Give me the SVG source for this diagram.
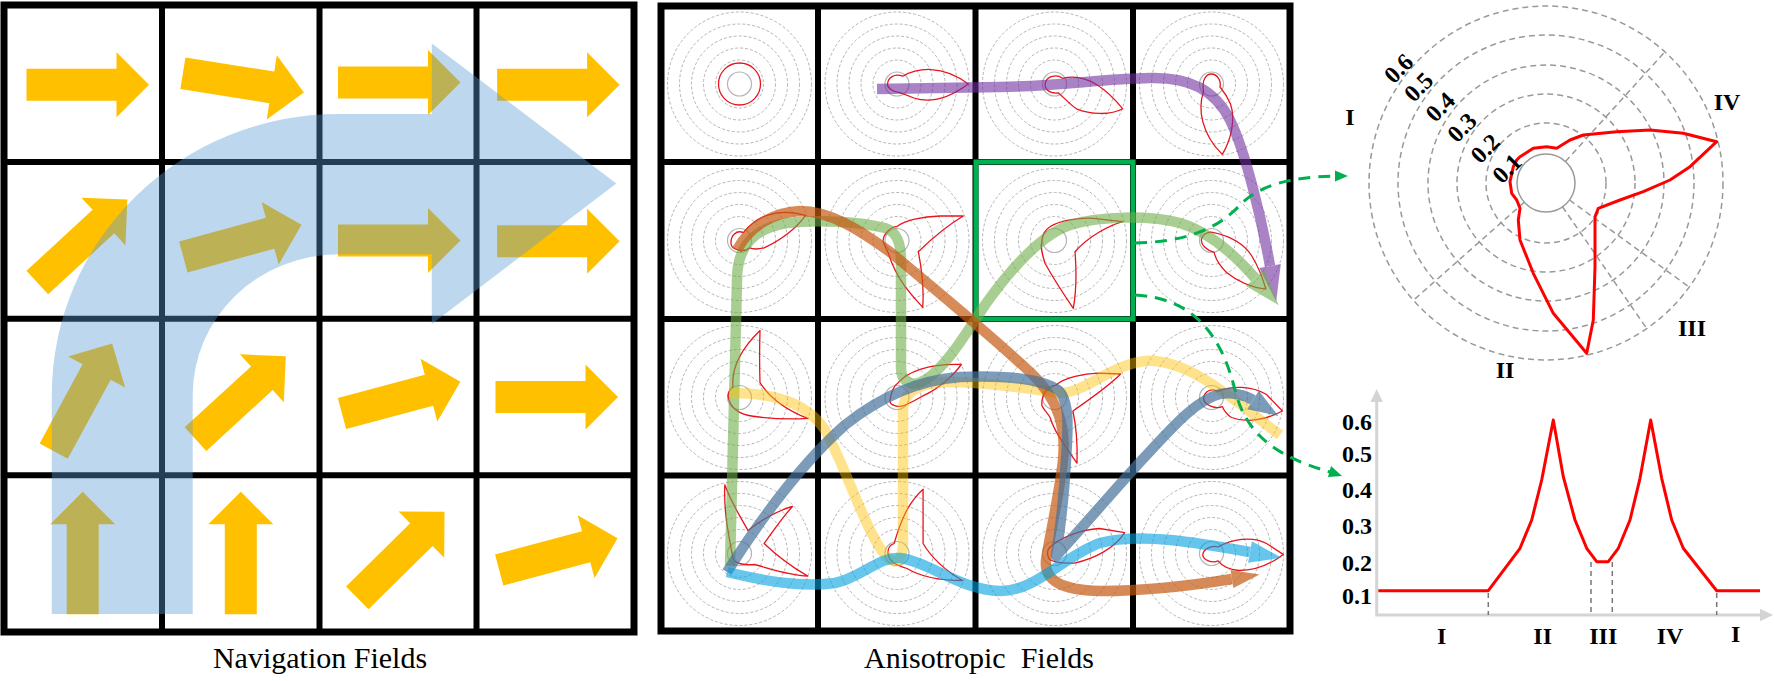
<svg xmlns="http://www.w3.org/2000/svg" xmlns:xlink="http://www.w3.org/1999/xlink" width="1774" height="681" viewBox="0 0 1774 681">
<style>
.grid{stroke:#000;stroke-width:6;fill:none}
.ya{fill:#ffc000}
.ring{fill:none;stroke:#b4b4b4;stroke-width:1;stroke-dasharray:3 2}
.core{fill:none;stroke:#b4b4b4;stroke-width:1.2}
.red{fill:none;stroke:#e8141c;stroke-width:1.3;stroke-linejoin:round}
.path{fill:none;stroke-width:10.5;stroke-linecap:butt;stroke-linejoin:round}
.gdash{fill:none;stroke:#00b050;stroke-width:3;stroke-dasharray:12 8}
.cap{font-family:"Liberation Serif","Times New Roman",serif;font-size:30px;fill:#000;white-space:pre}
.lb{font-family:"Liberation Serif","Times New Roman",serif;font-weight:bold;font-size:24px;fill:#000}
.pr{fill:none;stroke:#999;stroke-width:1.5;stroke-dasharray:6 4}
</style>
<defs>
<path id="ya" d="M0,-16 H90 V-32.5 L122.5,0 L90,32.5 V16 H0 Z"/>
<g id="rings">
<circle class="ring" r="24"/><circle class="ring" r="36"/><circle class="ring" r="48"/><circle class="ring" r="60"/><circle class="ring" r="72"/><circle class="core" r="12"/>
</g>
</defs>
<rect x="0" y="0" width="1774" height="681" fill="#fff"/>

<g id="navigation-fields">
<g id="yellow-arrows" class="ya">
<use href="#ya" transform="translate(26.5,84.8)"/>
<use href="#ya" transform="translate(182.9,73.3) rotate(9)"/>
<use href="#ya" transform="translate(338,82.6)"/>
<use href="#ya" transform="translate(497.1,84.8)"/>
<use href="#ya" transform="translate(37.3,282.6) rotate(-42.7)"/>
<use href="#ya" transform="translate(183.3,257) rotate(-15.3)"/>
<use href="#ya" transform="translate(338,240.4)"/>
<use href="#ya" transform="translate(497.1,241.3)"/>
<use href="#ya" transform="translate(53.7,451.1) rotate(-61.5)"/>
<use href="#ya" transform="translate(195.5,439.1) rotate(-42.5)"/>
<use href="#ya" transform="translate(342,413.5) rotate(-15)"/>
<use href="#ya" transform="translate(495.5,397)"/>
<use href="#ya" transform="translate(82.7,614.3) rotate(-90)"/>
<use href="#ya" transform="translate(240.8,614.3) rotate(-90)"/>
<use href="#ya" transform="translate(357.3,597.8) rotate(-44.6)"/>
<use href="#ya" transform="translate(499.2,570) rotate(-15)"/>
</g>
<g id="left-grid" class="grid">
<rect x="4" y="5" width="630" height="627" stroke-width="7"/>
<path d="M162,5V632M319.5,5V632M476.5,5V632M4,162H634M4,318.8H634M4,475.3H634"/>
</g>
<path id="blue-flow" fill="#5b9bd5" fill-opacity="0.4" d="M51.8,614 L192.7,614 L192.7,395 A146,141 0 0 1 338.8,254.3 L431.8,254.3 L431.8,324 L616.3,183.5 L431.8,43.5 L431.8,113.9 L338.8,113.9 A287,281 0 0 0 51.8,395 Z"/>
<text class="cap" x="320" y="668" text-anchor="middle">Navigation Fields</text>
</g>

<g id="anisotropic-fields">
<g id="cell-rings">
<use href="#rings" transform="translate(739.5,84)"/><use href="#rings" transform="translate(897,84)"/><use href="#rings" transform="translate(1054.5,84)"/><use href="#rings" transform="translate(1211.5,84)"/>
<use href="#rings" transform="translate(739.5,240.5)"/><use href="#rings" transform="translate(897,240.5)"/><use href="#rings" transform="translate(1054.5,240.5)"/><use href="#rings" transform="translate(1211.5,240.5)"/>
<use href="#rings" transform="translate(739.5,397.5)"/><use href="#rings" transform="translate(897,397.5)"/><use href="#rings" transform="translate(1054.5,397.5)"/><use href="#rings" transform="translate(1211.5,397.5)"/>
<use href="#rings" transform="translate(739.5,553.5)"/><use href="#rings" transform="translate(897,553.5)"/><use href="#rings" transform="translate(1054.5,553.5)"/><use href="#rings" transform="translate(1211.5,553.5)"/>
</g>
<g id="cell-shapes" class="red">
<circle cx="739.5" cy="84" r="21"/>
<path transform="translate(897,84)" d="M5.8,-7.8 C20,-16 45,-20 71.3,0 C55,12 35,20 17,14 L3,8.7 C-5,8 -10,3 -9.5,0 C-9,-6 -3,-11 5.8,-7.8 Z"/>
<path transform="translate(1054.5,84)" d="M8,-5.7 C25,-10 45,-4 68.2,24.8 C55,32 35,30 22,24.8 C15,20 10,14 4,9 C-5,10 -11,5 -9,-2 C-7,-8 2,-10 8,-5.7 Z"/>
<path transform="translate(1211.5,84)" d="M-7.9,7.4 C-14,25 -10,50 10.8,70.4 C20,55 24,35 19,20 C15,10 10,5 8.5,3 C10,-4 5,-10 0,-10 C-6,-10 -10,-3 -7.9,7.4 Z"/>
<path transform="translate(739.5,240.5)" d="M3.9,-7.8 C15,-22 35,-34 66.1,-25.2 C55,-10 40,0 24.6,7.4 C18,9 14,9 10,7.4 C5,12 -8,10 -8.5,3 C-9,-5 -3,-11 3.9,-7.8 Z"/>
<path transform="translate(897,240.5)" d="M-0.3,-13.8 C8,-20 25,-24 43,-24.5 L66.3,-24.5 C50,-15 35,-2 21.3,11.2 C25,30 27,50 25.7,66.8 C15,55 0,40 -8.7,12.8 C-12,5 -15,0 -13.7,-0.5 C-14,-6 -6,-14 -0.3,-13.8 Z"/>
<path transform="translate(1054.5,240.5)" d="M-4.5,-13.8 C5,-20 25,-23 38.8,-22.2 L68.2,-18.8 C55,-15 35,-5 20.5,11.2 C22,30 22,50 18.8,67.8 C10,55 0,40 -9.5,22.8 C-12,15 -14,5 -12.8,2.8 C-13,-5 -9,-11 -4.5,-13.8 Z"/>
<path transform="translate(1211.5,240.5)" d="M2.5,-7.8 C15,-5 30,0 40,15 C48,28 52,40 54.3,48.7 C40,47 25,40 15,32 C8,25 4,18 2.5,11.7 C-5,10 -11,4 -10,-1.3 C-8,-8 -2,-9 2.5,-7.8 Z"/>
<path transform="translate(739.5,397.5)" d="M-6.5,-10.4 C-8,-25 -2,-45 20.5,-67 C20,-50 20,-30 20.5,-14.8 C30,0 45,12 68.2,20.9 C50,22 30,21 15,19 C0,17 -10,10 -11.4,-1.7 C-11,-6 -9,-9 -6.5,-10.4 Z"/>
<path transform="translate(897,397.5)" d="M1.2,-14.8 C10,-25 30,-34 64.3,-33 C55,-20 40,-8 26,-1.7 C20,2 14,5 9.5,7 C3,11 -8,8 -7,2.6 C-6,-4 -3,-12 1.2,-14.8 Z"/>
<path transform="translate(1054.5,397.5)" d="M1.8,-12.6 C10,-20 30,-24 43.3,-24.3 L66.1,-23.5 C55,-12 35,2 18.4,13.5 C22,30 23,50 22.5,65.7 C12,50 0,35 -4.4,20 C-8,14 -13,10 -12.7,7 C-13,-2 -8,-10 1.8,-12.6 Z"/>
<path transform="translate(1211.5,397.5)" d="M6.6,-6.1 C20,-12 40,-12 55,-3 L70.9,13.5 C55,22 35,26 20,20 C15,17 12,12 10.8,9.1 C5,12 -8,8 -7.9,0.4 C-7,-6 0,-10 6.6,-6.1 Z"/>
<path transform="translate(739.5,553.5)" d="M-6.5,5 C-10,-15 -16,-40 -14.7,-68.7 C-8,-50 2,-35 8.5,-23 C20,-32 35,-42 52.9,-47 C42,-35 32,-20 24.6,-10 C35,0 50,12 68.2,22.6 C50,22 30,15 15,11 C5,12 -5,10 -6.5,5 Z"/>
<path transform="translate(897,553.5)" d="M-2.9,-10 C3,-30 10,-50 26.1,-64.3 C26,-45 26,-25 26.1,-10 C35,5 50,18 65.5,27 C45,27 25,24 10,15 C0,12 -9,8 -9.1,-1.3 C-9,-6 -6,-9 -2.9,-10 Z"/>
<path transform="translate(1054.5,553.5)" d="M-4.4,-6.5 C5,-15 25,-24 45,-25 L70.2,-20.9 C60,-5 40,5 20,9.6 C10,10 0,10 -5.6,5.2 C-8,0 -7,-4 -4.4,-6.5 Z"/>
<path transform="translate(1211.5,553.5)" d="M6.6,-6.5 C20,-14 40,-18 55,-10 L71.7,0.9 C60,10 45,17 27.4,17 C18,16 10,12 6.6,7.4 C0,10 -9,6 -8.7,0.9 C-8,-4 0,-9 6.6,-6.5 Z"/>
</g>
<g id="right-grid" class="grid">
<rect x="661" y="6" width="629" height="625" stroke-width="7"/>
<path d="M818,6V631M975.5,6V631M1133,6V631M661,162H1290M661,319H1290M661,475.5H1290"/>
</g>
<rect id="selected-cell" x="976" y="162" width="157" height="157" fill="none" stroke="#00b050" stroke-width="5"/>
<text class="cap" x="979" y="668" text-anchor="middle">Anisotropic  Fields</text>
</g>

<g id="connectors">
<g opacity="0.6">
<path class="path" stroke="#7030a0" d="M877,89 L1000,87 C1060,86 1100,79 1150,78 C1190,77 1215,90 1230,120 C1245,150 1262,220 1270,266"/>
<polygon fill="#7030a0" points="1276.2,301.5 1280.8,264.1 1259.2,267.9"/>
</g>
<g opacity="0.6">
<path class="path" stroke="#70ad47" d="M730,566 L737,280 C737,245 755,228 787,223 C820,219 860,222 885,228 C898,232 901,245 901,262 L901,368 C901,382 912,388 925,380 C945,368 965,335 985,305 C1010,270 1040,235 1070,225 C1100,216 1150,215 1180,223 C1210,232 1235,255 1255,278"/>
<polygon fill="#70ad47" points="1278.6,305.2 1264.1,270.1 1245.9,285.9"/>
</g>
<g opacity="0.45">
<path class="path" stroke="#ffc000" d="M729,393 C770,393 805,400 825,430 C845,465 865,530 885,555 C898,568 903,560 903,540 L903,410 C903,392 920,383 945,382 C990,382 1040,390 1060,393 C1085,393 1110,365 1145,361 C1190,358 1240,405 1280,435"/>
</g>
<g opacity="0.7">
<path class="path" stroke="#c55a11" d="M737,250 C750,225 775,212 800,211 C830,211 860,230 890,252 C930,285 990,335 1030,372 C1060,400 1066,430 1063,460 C1060,490 1050,535 1046,560 C1044,580 1060,590 1100,591 C1150,591 1195,585 1232,579"/>
<polygon fill="#c55a11" points="1259.6,574.5 1233.4,587.9 1230.6,570.1"/>
</g>
<g opacity="0.7">
<path class="path" stroke="#44729c" d="M727,572 C760,520 800,465 845,425 C880,397 920,380 960,377 C1000,375 1040,378 1058,390 C1070,400 1068,430 1066,460 C1064,500 1060,530 1056,556 C1080,530 1110,495 1140,462 C1170,430 1195,400 1220,394 C1232,392 1245,395 1253,400"/>
<polygon fill="#44729c" points="1278.4,415.9 1258.8,390.7 1247.2,409.3"/>
</g>
<g opacity="0.6">
<path class="path" stroke="#00a0e0" d="M727,572 C760,580 800,588 835,583 C860,578 880,556 900,558 C930,562 960,590 1000,591 C1035,592 1065,555 1100,543 C1140,532 1200,543 1250,552"/>
<polygon fill="#00a0e0" points="1281.5,557.7 1248.1,562.8 1251.9,541.2"/>
</g>
<path class="gdash" d="M1135,243 C1180,242 1215,232 1240,205 C1260,185 1290,177 1336,176"/>
<polygon fill="#00b050" points="1348,176 1335,170.5 1335,181.5"/>
<path class="gdash" d="M1135,295 C1190,298 1220,330 1235,390 C1245,430 1270,455 1330,472"/>
<polygon fill="#00b050" points="1342,476 1331,466 1328,477"/>
</g>

<g id="polar-chart">
<circle class="pr" cx="1546" cy="183" r="60"/>
<circle class="pr" cx="1546" cy="183" r="89"/>
<circle class="pr" cx="1546" cy="183" r="118"/>
<circle class="pr" cx="1546" cy="183" r="148"/>
<circle class="pr" cx="1546" cy="183" r="177"/>
<circle cx="1546" cy="183" r="29" fill="none" stroke="#999" stroke-width="1.5"/>
<path class="pr" d="M1565.5,161.5 L1664.9,51.8 M1524.3,202.2 L1413.4,300.3 M1562.5,206.8 L1646.7,328.5 M1569.5,200 L1687.6,285.9"/>
<polygon fill="none" stroke="#ff0000" stroke-width="3" stroke-linejoin="round" points="1516.7,160 1513.3,166.7 1510,181.7 1511.7,193.3 1516.7,200 1520,208.3 1518.3,220 1520,240 1533.3,273.3 1553.3,313.3 1586.7,353.3 1593.3,320 1595,266.7 1595,216.7 1598.3,208.3 1620,200 1643.3,191.7 1670,180 1690,166.7 1716.7,141.7 1683.3,133.3 1650,130 1616.7,131.7 1583.3,135 1570,140 1556.7,148.3 1546.7,146.7 1533.3,148.3 1520,156.7"/>
<g class="lb" text-anchor="middle">
<text transform="translate(1398.3,68.3) rotate(-45)" dy="0.35em">0.6</text>
<text transform="translate(1418.3,86.7) rotate(-45)" dy="0.35em">0.5</text>
<text transform="translate(1440,106.7) rotate(-45)" dy="0.35em">0.4</text>
<text transform="translate(1461.7,127.3) rotate(-45)" dy="0.35em">0.3</text>
<text transform="translate(1485,148.3) rotate(-45)" dy="0.35em">0.2</text>
<text transform="translate(1506.7,168.3) rotate(-45)" dy="0.35em">0.1</text>
</g>
<g class="lb" text-anchor="middle">
<text x="1350" y="125">I</text>
<text x="1727" y="110">IV</text>
<text x="1692" y="336">III</text>
<text x="1505" y="378">II</text>
</g>
</g>

<g id="line-chart">
<path d="M1376.7,398 V615 H1764" fill="none" stroke="#d4d4d4" stroke-width="3"/>
<polygon fill="#d4d4d4" points="1376.7,389 1370.5,402 1382.9,402"/>
<polygon fill="#d4d4d4" points="1773,615 1760,608.8 1760,621.2"/>
<path d="M1488.3,593V615M1591,562V615M1612.3,562V615M1716.7,593V615" stroke="#777" stroke-width="1.5" stroke-dasharray="5 4" fill="none"/>
<polyline fill="none" stroke="#ff0000" stroke-width="3" stroke-linejoin="round" points="1378.3,590.7 1488.3,590.7 1520,548.3 1531.7,520 1541.7,480 1553.3,420 1563.3,476.7 1575,520 1586.7,548.3 1596.7,561.7 1608.3,561.7 1618.3,548.3 1630,520 1640,478.3 1650.7,420 1661.7,478.3 1671.7,520 1683.3,548.3 1716.7,590.7 1760,590.7"/>
<g class="lb" text-anchor="end">
<text x="1372" y="429.5">0.6</text>
<text x="1372" y="461.5">0.5</text>
<text x="1372" y="498">0.4</text>
<text x="1372" y="533.5">0.3</text>
<text x="1372" y="570.5">0.2</text>
<text x="1372" y="604">0.1</text>
</g>
<g class="lb" text-anchor="middle">
<text x="1441.7" y="643.5">I</text>
<text x="1542.7" y="643.5">II</text>
<text x="1603.3" y="643.5">III</text>
<text x="1670" y="643.5">IV</text>
<text x="1735.7" y="641.5">I</text>
</g>
</g>
</svg>
